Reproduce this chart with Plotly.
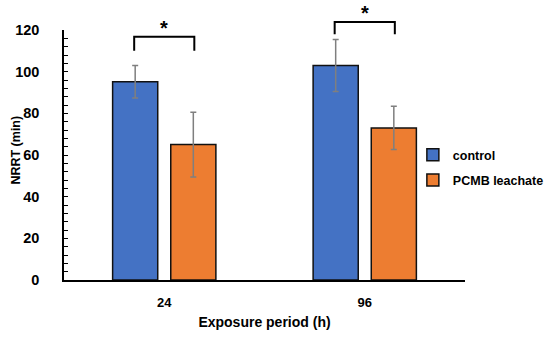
import plotly.graph_objects as go

categories = ["24", "96"]
control_mean = [95.2, 103.0]
control_err = [7.8, 12.5]
pcmb_mean = [65.0, 73.0]
pcmb_err = [15.5, 10.4]
y_ticks = [0, 20, 40, 60, 80, 100, 120]
sig_label = "*"
bracket_top = [116.8, 123.8]
bracket_bottom = [110.0, 118.0]
y_title = "NRRT (min)"
x_title = "Exposure period (h)"

FONT = "Liberation Sans"
blue = "#4472C4"
orange = "#ED7D31"
Y_MAX = 120

fig = go.Figure()
fig.add_trace(go.Bar(
    x=categories, y=control_mean, name="control", legendgroup="a",
    marker=dict(color=blue, line=dict(color="#111111", width=1.5)),
    error_y=dict(type="data", array=control_err, color="#7f7f7f", thickness=1.5, width=3),
))
fig.add_trace(go.Bar(
    x=categories, y=pcmb_mean, name="PCMB leachate", legendgroup="b",
    marker=dict(color=orange, line=dict(color="#111111", width=1.5)),
    error_y=dict(type="data", array=pcmb_err, color="#7f7f7f", thickness=1.5, width=3),
))

off = 0.15
for i in range(len(categories)):
    x0, x1 = i - off, i + off
    yb = bracket_bottom[i] / Y_MAX
    yt = bracket_top[i] / Y_MAX
    fig.add_shape(type="path", xref="x", yref="paper",
                  path=f"M {x0},{yb} L {x0},{yt} L {x1},{yt} L {x1},{yb}",
                  line=dict(color="black", width=2))
    fig.add_annotation(x=i, y=yt, xref="x", yref="paper", text="<b>" + sig_label + "</b>",
                       showarrow=False, yanchor="bottom", yshift=-4,
                       font=dict(family=FONT, size=20, color="black"))

# y-axis title
fig.add_annotation(x=-0.122, y=0.518, xref="paper", yref="paper", text="<b>" + y_title + "</b>",
                   textangle=-90, showarrow=False, xanchor="center", yanchor="middle",
                   font=dict(family=FONT, size=12.5, color="black"))

fig.update_layout(
    width=550, height=337,
    margin=dict(l=64, r=85, t=30, b=57, autoexpand=False),
    paper_bgcolor="white", plot_bgcolor="white",
    barmode="group", bargap=0.42, bargroupgap=0.224,
    font=dict(family=FONT, size=12, color="black", weight="bold"),
    legend=dict(x=0.87, y=0.45, xanchor="left", yanchor="middle",
                font=dict(family=FONT, size=12.5, color="black", weight="bold"),
                tracegroupgap=6, bgcolor="rgba(0,0,0,0)"),
    showlegend=True,
)
fig.update_xaxes(
    type="category", showline=True, linecolor="black", linewidth=1.5,
    ticks="", tickfont=dict(size=13), ticklabelstandoff=10, automargin=False,
    title=dict(text=x_title, font=dict(size=14, weight="bold"), standoff=8),
)
fig.update_yaxes(
    range=[0, Y_MAX], tickvals=y_ticks, showline=True, linecolor="black", linewidth=1.5,
    showgrid=False, zeroline=False, automargin=False,
    ticks="inside", ticklen=4, tickcolor="black", tickwidth=1,
    minor=dict(dtick=4, tick0=0, ticks="inside", ticklen=4, tickcolor="black", tickwidth=1, showgrid=False),
    tickfont=dict(size=14.5), ticklabelstandoff=20,
)

fig.write_html("out.html", config={"displayModeBar": False},
               post_script="document.body.style.margin='0';document.body.style.padding='0';")
